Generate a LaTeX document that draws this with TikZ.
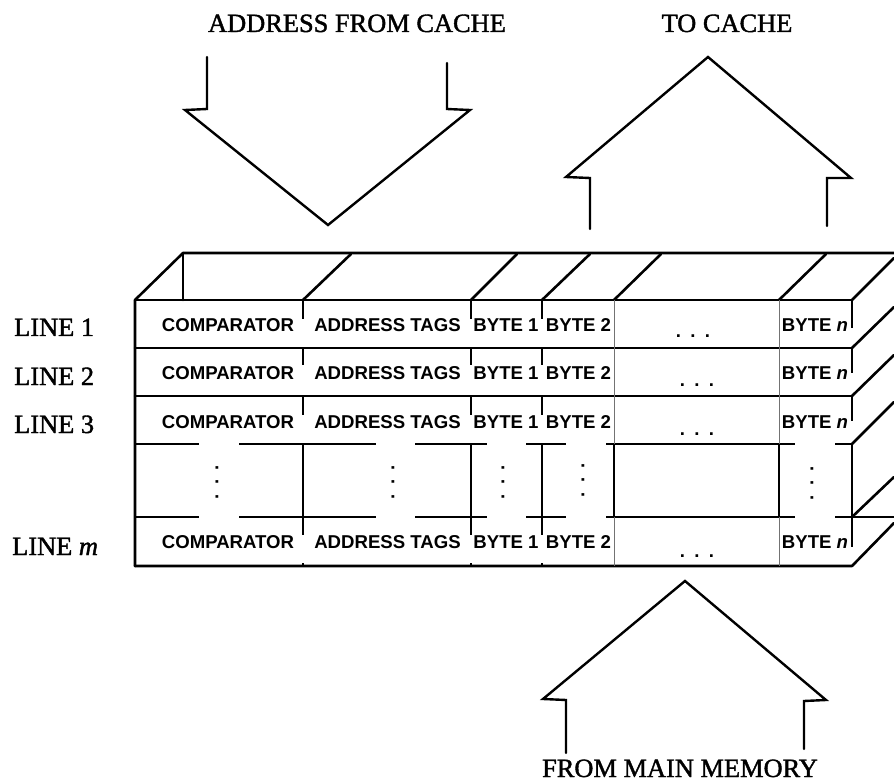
\documentclass[tikz,border=0pt]{standalone}
\usepackage{fontspec}
\setmainfont{Liberation Serif}
\setsansfont{Liberation Sans}
\newfontfamily\heavyserif[FakeBold=1.5]{Liberation Serif}
\newcommand{\rowdots}{.\hspace{9.3pt}.\hspace{9.3pt}.}
\tikzset{
  outline/.style={line width=2.6pt,line cap=round,line join=round},
  arrowline/.style={line width=2.4pt,line cap=round,line join=miter},
  faint/.style={line width=0.9pt,black!55},
  serifbase/.style={inner sep=0,anchor=base,font=\heavyserif\fontsize{26.4}{28}\selectfont},
  linelabel/.style={inner sep=0,anchor=base west,font=\heavyserif\fontsize{26.4}{28}\selectfont},
  cell/.style={inner sep=0,anchor=base,font=\sffamily\bfseries\fontsize{18.6}{20}\selectfont},
  dotsnode/.style={inner sep=0,font=\sffamily\bfseries\fontsize{18.6}{20}\selectfont},
}
\begin{document}
\begin{tikzpicture}[x=1pt,y=-1pt]
\useasboundingbox (0,0) rectangle (894,783);
% arrows
\draw[arrowline] (207,57)--(207,109)--(185,110)--(328,225)--(470,110)--(447,109)--(447,63);
\draw[arrowline] (590,229)--(590,178)--(566,177)--(708,57)--(851,178)--(827,178)--(827,226);
\draw[arrowline] (566,753)--(566,700)--(543,699)--(685,581)--(826,700)--(804,701)--(804,749);
% box outline
\draw[outline] (135,566)--(135,300)--(183,253)--(894,253);
\draw[outline] (183,253)--(183,300);
\draw[outline] (135,300)--(852,300);
\draw[outline] (135,348)--(852,348);
\draw[outline] (135,396)--(852,396);
\draw[outline] (135,566)--(852,566)--(894,523);
% top diagonals
\foreach \a/\b in {303/351,471/517,542/590,614/661,779/826}
  \draw[outline] (\a,300)--(\b,254);
\draw[outline] (852,300)--(894,258);
% right diagonals
\draw[outline] (852,348)--(894,307);
\draw[outline] (852,396)--(894,355);
\draw[outline] (852,444)--(894,402);
\draw[outline] (852,517)--(894,477);
% broken rules
\foreach \y in {444,517}{
  \foreach \a/\b in {135/199,239/376,415/487,526/566,606/795}
    \draw[outline,line cap=butt] (\a,\y)--(\b,\y);
}
\draw[outline,line cap=butt] (835,444)--(852,444);
\draw[outline,line cap=butt] (835,517)--(894,517);
% column rules
\foreach \x in {303,471,542}{
  \foreach \a/\b in {300/319,348/365,396/415,444/535,563/567}
    \draw[line width=2pt] (\x,\a)--(\x,\b);
}
\foreach \x in {614,779}{
  \draw[faint] (\x,300)--(\x,444);
  \draw[faint] (\x,517)--(\x,566);
  \draw[line width=2pt] (\x,444)--(\x,517);
}
\foreach \a/\b in {300/328,348/373,396/421,444/547}
  \draw[line width=2pt] (852,\a)--(852,\b);
% titles
\node[serifbase] (tAddr) at (357,32) {ADDRESS FROM CACHE};
\node[serifbase] (tTo) at (727,32) {TO CACHE};
\node[serifbase] (tFrom) at (680,777) {FROM MAIN MEMORY};
% line labels
\node[linelabel] (l1) at (14,336) {LINE 1};
\node[linelabel] (l2) at (14,385) {LINE 2};
\node[linelabel] (l3) at (14,433) {LINE 3};
\node[linelabel] (lm) at (12,555) {LINE \textit{m}};
% cell labels
\foreach \y/\n in {332/a,380/b,428/c,548/d}{
  \node[cell] (cmp\n) at (228,\y) {COMPARATOR};
  \node[cell] (adr\n) at (387.5,\y) {ADDRESS TAGS};
  \node[cell] (bya\n) at (506,\y) {BYTE 1};
  \node[cell] (byb\n) at (578.5,\y) {BYTE 2};
  \node[cell] (byn\n) at (815,\y) {BYTE \textit{n}};
}
% dots in the row
\node[dotsnode,anchor=base] (da) at (693,338) {\rowdots};
\node[dotsnode,anchor=base] (db) at (697,387) {\rowdots};
\node[dotsnode,anchor=base] (dc) at (697,435) {\rowdots};
\node[dotsnode,anchor=base] (dd) at (697,557) {\rowdots};
% vertical dots
\foreach \x/\y/\n in {217/482/a,393/482/b,503/482/c,583/480/d,812/483/e}
  \node[dotsnode,rotate=90] (v\n) at (\x,\y) {\rowdots};
\end{tikzpicture}
\end{document}
